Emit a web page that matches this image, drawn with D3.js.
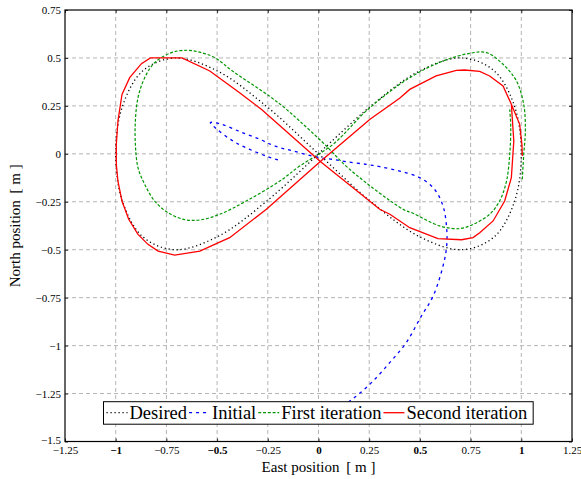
<!DOCTYPE html>
<html lang="en">

<head>
    <meta charset="UTF-8">
    <script src="https://d3js.org/d3.v7.min.js"></script>
    <title>Figure-eight tracking</title>
    <style>
        body { margin: 0; background: #fff; }
        svg { font-family: "Liberation Serif", "DejaVu Serif", serif; }
        .grid line { stroke: #b4b4b4; stroke-width: 1; stroke-dasharray: 4,3; }
        .axis path { display: none; }
        .axis line { stroke: #000; stroke-width: 0.8; }
        .axis text { font-size: 11px; fill: #000; font-family: "Liberation Serif", serif; }
    </style>
</head>

<body>
    <script>
        // Tick values for both axes
        var xTicks = [-1.25, -1, -0.75, -0.5, -0.25, 0, 0.25, 0.5, 0.75, 1, 1.25];
        var yTicks = [0.75, 0.5, 0.25, 0, -0.25, -0.5, -0.75, -1, -1.25, -1.5];
        var xBold = [-1, -0.5, 0, 0.5, 1];

        // Desired path (closed figure eight) [east, north]
        var desired = [
            [0, 0], [0.259, 0.25], [0.5, 0.433], [0.707, 0.5], [0.866, 0.433], [0.966, 0.25],
            [1, 0], [0.966, -0.25], [0.866, -0.433], [0.707, -0.5], [0.5, -0.433], [0.259, -0.25],
            [0, 0], [-0.259, 0.25], [-0.5, 0.433], [-0.707, 0.5], [-0.866, 0.433], [-0.966, 0.25],
            [-1, 0], [-0.966, -0.25], [-0.866, -0.433], [-0.707, -0.5], [-0.5, -0.433], [-0.259, -0.25],
            [0, 0]
        ];

        // Initial run
        var initial = [
            [-0.2, -0.032], [-0.249, -0.015], [-0.339, 0.023], [-0.422, 0.067], [-0.5, 0.128], [-0.533, 0.163],
            [-0.478, 0.154], [-0.389, 0.116], [-0.29, 0.076], [-0.216, 0.041], [-0.126, 0.015], [0.006, -0.02],
            [0.072, -0.029], [0.138, -0.041], [0.236, -0.055], [0.302, -0.067], [0.4, -0.09], [0.499, -0.124],
            [0.572, -0.185], [0.614, -0.272], [0.631, -0.376], [0.632, -0.48], [0.614, -0.585], [0.565, -0.742],
            [0.507, -0.846], [0.433, -0.984], [0.351, -1.089], [0.269, -1.185], [0.203, -1.249], [0.154, -1.289],
            [0.1, -1.33]
        ];

        // First iteration
        var firstIter = [
            [1.005, -0.133], [1.012, -0.003], [1.02, 0.12], [1.012, 0.258], [0.976, 0.38], [0.91, 0.467],
            [0.828, 0.528], [0.746, 0.524], [0.614, 0.484], [0.45, 0.397], [0.244, 0.232], [0.072, 0.05],
            [-0.093, -0.064], [-0.191, -0.142], [-0.356, -0.246], [-0.487, -0.315], [-0.586, -0.345],
            [-0.66, -0.343], [-0.742, -0.307], [-0.808, -0.246], [-0.857, -0.159], [-0.89, -0.072],
            [-0.903, 0.05], [-0.903, 0.171], [-0.89, 0.293], [-0.857, 0.397], [-0.808, 0.475], [-0.725, 0.528],
            [-0.65, 0.54], [-0.586, 0.53], [-0.512, 0.502], [-0.422, 0.43], [-0.241, 0.3], [-0.158, 0.232],
            [-0.093, 0.171], [0.022, 0.058], [0.154, -0.081], [0.417, -0.289], [0.466, -0.31], [0.598, -0.376],
            [0.696, -0.39], [0.762, -0.368], [0.844, -0.315], [0.893, -0.246], [0.927, -0.142], [0.943, -0.003],
            [0.948, 0.137], [0.943, 0.232]
        ];

        // Second iteration
        var secondIter = [
            [1.005, -0.011], [1.003, 0.05], [0.992, 0.154], [0.951, 0.258], [0.91, 0.354], [0.844, 0.406],
            [0.795, 0.43], [0.72, 0.437], [0.68, 0.435], [0.58, 0.406], [0.45, 0.336], [0.4, 0.29], [0.254, 0.18],
            [0.009, -0.04], [-0.257, -0.289], [-0.438, -0.437], [-0.512, -0.472], [-0.585, -0.507], [-0.709, -0.528],
            [-0.791, -0.507], [-0.841, -0.472], [-0.89, -0.42], [-0.936, -0.341], [-0.969, -0.246], [-0.989, -0.142],
            [-0.997, -0.055], [-0.997, 0.05], [-0.989, 0.171], [-0.969, 0.31], [-0.931, 0.397], [-0.873, 0.47],
            [-0.829, 0.5], [-0.673, 0.5], [-0.536, 0.432], [-0.389, 0.319], [-0.282, 0.232], [0.009, -0.04],
            [0.302, -0.289], [0.352, -0.315], [0.45, -0.385], [0.589, -0.442], [0.705, -0.448], [0.762, -0.437],
            [0.795, -0.411], [0.861, -0.35], [0.918, -0.246], [0.951, -0.124], [0.963, 0.067], [0.951, 0.258]
        ];

        var legendNames = ["Desired", "Initial", "First iteration", "Second iteration"];

        var margin = { top: 10, right: 9, bottom: 37, left: 65 },
            width = 581 - margin.left - margin.right,
            height = 479 - margin.top - margin.bottom - 0.5;

        var x = d3.scaleLinear().domain([-1.25, 1.25]).range([0, width]);
        var y = d3.scaleLinear().domain([-1.5, 0.75]).range([height, 0]);

        var svg = d3.select("body").append("svg")
            .attr("width", 581)
            .attr("height", 479)
            .append("g")
            .attr("transform", "translate(" + margin.left + "," + margin.top + ")");

        // Dashed grid
        var grid = svg.append("g").attr("class", "grid");
        grid.selectAll(".gx").data(xTicks.slice(1, -1)).enter().append("line")
            .attr("x1", d => x(d)).attr("x2", d => x(d))
            .attr("y1", 0).attr("y2", height);
        grid.selectAll(".gy").data(yTicks.slice(1)).enter().append("line")
            .attr("x1", 0).attr("x2", width)
            .attr("y1", d => y(d)).attr("y2", d => y(d));

        function fmt(d) {
            return d3.format("")(d).replace("-", "\u2212");
        }

        // Axes with inward ticks
        var xAxis = svg.append("g").attr("class", "axis")
            .attr("transform", "translate(0," + height + ")")
            .call(d3.axisBottom(x).tickValues(xTicks).tickSizeInner(-3).tickSizeOuter(0).tickPadding(5).tickFormat(fmt));
        xAxis.selectAll("text")
            .style("font-weight", d => xBold.indexOf(d) >= 0 ? "bold" : "normal");

        var yAxis = svg.append("g").attr("class", "axis")
            .call(d3.axisLeft(y).tickValues(yTicks).tickSizeInner(-3).tickSizeOuter(0).tickPadding(4).tickFormat(fmt));
        // bottom label lifted a bit so it clears the x label below it
        yAxis.selectAll("text").filter(d => d === -1.5).attr("dy", "0.18em");

        svg.append("g").attr("class", "axis")
            .call(d3.axisTop(x).tickValues(xTicks).tickSizeInner(-3).tickSizeOuter(0).tickFormat(""));
        svg.append("g").attr("class", "axis")
            .attr("transform", "translate(" + width + ",0)")
            .call(d3.axisRight(y).tickValues(yTicks).tickSizeInner(-3).tickSizeOuter(0).tickFormat(""));

        // Lines
        svg.append("clipPath").attr("id", "clip")
            .append("rect").attr("width", width).attr("height", height);
        var plot = svg.append("g").attr("clip-path", "url(#clip)");

        var smooth = d3.line()
            .x(d => x(d[0])).y(d => y(d[1]))
            .curve(d3.curveCatmullRom);
        var straight = d3.line()
            .x(d => x(d[0])).y(d => y(d[1]));

        var styles = [
            { color: "#000000", dash: "1.2,2.8", w: 1.3 },
            { color: "#0000ff", dash: "3,4", w: 1.3 },
            { color: "#009600", dash: "3,1.8", w: 1.2 },
            { color: "#ff0000", dash: null, w: 1.3 }
        ];

        var series = [
            { data: desired, gen: smooth },
            { data: initial, gen: smooth },
            { data: firstIter, gen: smooth },
            { data: secondIter, gen: straight }
        ];

        series.forEach(function (s, i) {
            plot.append("path")
                .attr("d", s.gen(s.data))
                .attr("fill", "none")
                .attr("stroke", styles[i].color)
                .attr("stroke-width", styles[i].w)
                .attr("stroke-dasharray", styles[i].dash);
        });

        // Frame
        svg.append("rect")
            .attr("width", width).attr("height", height)
            .attr("fill", "none").attr("stroke", "#000").attr("stroke-width", 1.2);

        // Legend
        var legend = svg.append("g").attr("transform", "translate(" + (103.5 - margin.left) + "," + (401.7 - margin.top) + ")");
        var box = legend.append("rect")
            .attr("height", 22.5)
            .attr("fill", "#fff").attr("stroke", "#000").attr("stroke-width", 1);
        var lx = 3;
        legendNames.forEach(function (name, i) {
            legend.append("line")
                .attr("x1", lx).attr("x2", lx + 21)
                .attr("y1", 11).attr("y2", 11)
                .attr("stroke", styles[i].color)
                .attr("stroke-width", styles[i].w)
                .attr("stroke-dasharray", styles[i].dash);
            var t = legend.append("text")
                .attr("x", lx + 23).attr("y", 17.5)
                .style("font-size", "18.5px")
                .text(name);
            lx += 23 + t.node().getComputedTextLength() + 2;
        });
        box.attr("width", lx + 4);

        // Axis titles
        svg.append("text")
            .attr("x", width / 2).attr("y", height + 30)
            .attr("text-anchor", "middle")
            .style("font-size", "15px")
            .text("East position\u2009 [ m ]");

        svg.append("text")
            .attr("transform", "translate(" + (-45) + "," + (height / 2) + ") rotate(-90)")
            .attr("text-anchor", "middle")
            .style("font-size", "15px")
            .text("North position\u2009 [ m ]");
    </script>
</body>

</html>
